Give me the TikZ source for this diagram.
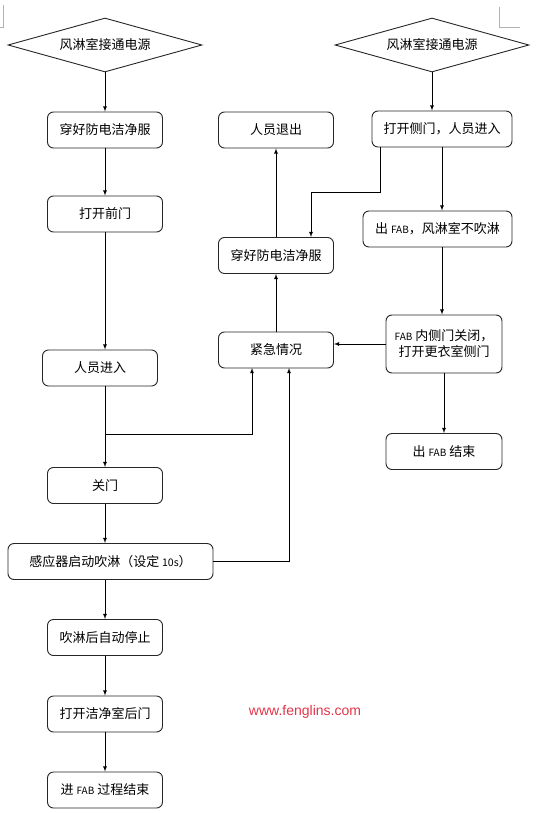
\documentclass[tikz,border=0pt]{standalone}
\usepackage{fontspec}
\setmainfont{Noto Sans CJK SC}
\newfontfamily\webfont{Liberation Sans}
\usetikzlibrary{arrows,shapes.geometric}
\definecolor{markred}{RGB}{226,52,72}
\newcommand{\fab}{{\fontsize{10}{12}\selectfont FAB}}
\begin{document}
\begin{tikzpicture}[x=1pt,y=-1pt,font=\fontsize{13}{16}\selectfont,
		box/.style={draw=black!85,line width=0.9pt,rounded corners=6pt,minimum width=115pt,minimum height=36pt,inner sep=2pt},
		cond/.style={draw=black!85,line width=0.9pt,diamond,aspect=3.6,minimum width=194pt,minimum height=54pt,inner sep=0pt},
		arr/.style={-latex,line width=0.8pt}]
				\useasboundingbox (0,0) rectangle (536,813);
				\draw [gray!60,line width=0.6pt] (0,27) -- (3,27) -- (3,5);
				\draw [gray!60,line width=0.6pt] (499,7) -- (499,27) -- (520,27);

				\node [cond] (power1) at (105, 45) {风淋室接通电源};
				\node [cond] (power2) at (432, 45) {风淋室接通电源};
				\node [box] (suit1) at (105, 130) {穿好防电洁净服};
				\node [box] (front) at (105, 214) {打开前门};
				\node [box] (enter) at (100, 368) {人员进入};
				\node [box] (close) at (105, 485.5) {关门};
				\node [box,minimum width=205pt] (sensor) at (110.5, 561.5) {感应器启动吹淋（设定 {\fontsize{10.5}{12}\selectfont 10s}）};
				\node [box] (stop) at (105, 637.5) {吹淋后自动停止};
				\node [box] (back) at (105, 714) {打开洁净室后门};
				\node [box] (done) at (105, 790) {进 \fab{} 过程结束};

				\node [box] (leave) at (276, 130) {人员退出};
				\node [box] (suit2) at (276, 255.5) {穿好防电洁净服};
				\node [box] (alarm) at (276, 350) {紧急情况};

				\node [box,minimum width=140pt] (side) at (442, 129) {打开侧门，人员进入};
				\node [box,minimum width=149pt] (out) at (437.5, 229) {出 \fab，风淋室不吹淋};
				\node [box,minimum width=116pt,minimum height=58pt,align=center] (inner) at (444, 344) {\fab{} 内侧门关闭，\\打开更衣室侧门};
				\node [box,minimum width=116pt] (outend) at (444, 451.5) {出 \fab{} 结束};

				\node [text=markred,font=\webfont\fontsize{14}{16}\selectfont] (site) at (305, 712) {www.fenglins.com};

				\coordinate (split) at (105, 434);
				\coordinate (up1) at (252, 368);
				\coordinate (up2) at (289, 368);
				\coordinate (turn1) at (380, 192);
				\coordinate (turn2) at (311, 192);

				\draw [arr] (power1) to (suit1);
				\draw [arr] (suit1) to (front);
				\draw [arr] (front) to (front |- enter.north);
				\draw [arr] (enter.south -| close) to (close);
				\draw [arr] (split) -| (up1);
				\draw [arr] (close) to (close |- sensor.north);
				\draw [arr] (sensor.east) -| (up2);
				\draw [arr] (sensor.south -| stop) to (stop);
				\draw [arr] (stop) to (back);
				\draw [arr] (back) to (done);

				\draw [arr] (alarm) to (suit2);
				\draw [arr] (suit2) to (leave);

				\draw [arr] (power2) to (power2 |- side.north);
				\draw [arr] (side.south -| turn1) -- (turn1) -- (turn2) -- (turn2 |- suit2.north);
				\draw [arr] (side) to (side |- out.north);
				\draw [arr] (out.south -| side) to (side |- inner.north);
				\draw [arr] (inner.west) to (inner.west -| alarm.east);
				\draw [arr] (inner) to (outend);
		\end{tikzpicture}
\end{document}
